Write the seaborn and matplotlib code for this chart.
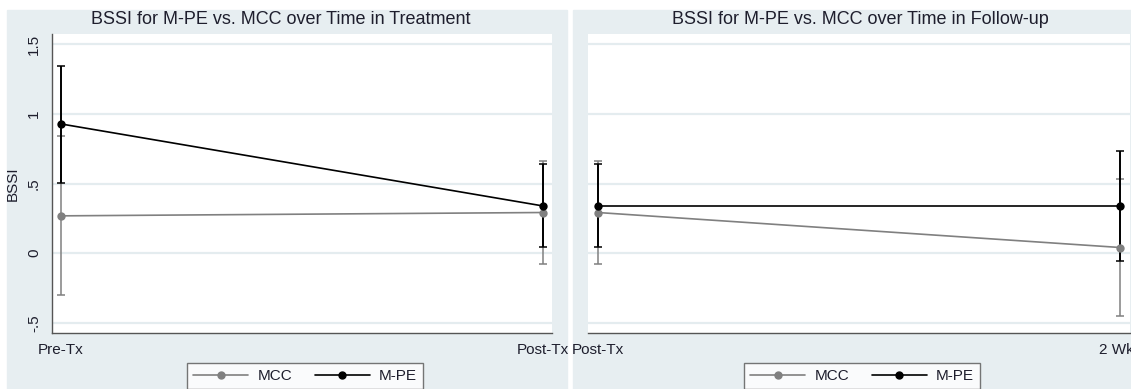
import numpy as np
import pandas as pd
import seaborn as sns
import matplotlib.pyplot as plt
from matplotlib.patches import Rectangle

# data
groups = ["MCC", "M-PE"]
tx_labels = ["Pre-Tx", "Post-Tx"]
fu_labels = ["Post-Tx", "2 Wks"]

tx_mcc = [0.268, 0.292]
tx_mcc_lo = [-0.298, -0.078]
tx_mcc_hi = [0.843, 0.664]
tx_mpe = [0.927, 0.339]
tx_mpe_lo = [0.506, 0.045]
tx_mpe_hi = [1.345, 0.638]

fu_mcc = [0.292, 0.041]
fu_mcc_lo = [-0.078, -0.448]
fu_mcc_hi = [0.664, 0.535]
fu_mpe = [0.339, 0.339]
fu_mpe_lo = [0.045, -0.054]
fu_mpe_hi = [0.638, 0.734]

ytick_vals = [-0.5, 0, 0.5, 1, 1.5]
ytick_labels = ["-.5", "0", ".5", "1", "1.5"]

BG = "#e7eef1"
GRID = "#e4ecef"
TXT = "#1e1e2d"
COLORS = {"MCC": "#808080", "M-PE": "#000000"}

sns.set_style("white")
plt.rcParams["font.family"] = ["Liberation Sans", "DejaVu Sans"]

W, H = 1131, 389
fig = plt.figure(figsize=(W / 100, H / 100), dpi=100)
fig.patch.set_facecolor("white")

def px(x0, y0, x1, y1):
    # pixel box -> figure fraction rect
    return [x0 / W, 1 - y1 / H, (x1 - x0) / W, (y1 - y0) / H]

# panel backgrounds (behind the axes)
fig.patches.append(Rectangle((7 / W, 0), (567 - 7) / W, 1 - 10 / H,
                             transform=fig.transFigure, color=BG, zorder=-5))
fig.patches.append(Rectangle((573 / W, 0), (W - 573) / W, 1 - 10 / H,
                             transform=fig.transFigure, color=BG, zorder=-5))


def draw_panel(ax, labels, mcc, mcc_lo, mcc_hi, mpe, mpe_lo, mpe_hi, title, tx, show_y):
    df = pd.DataFrame({
        "time": [0, 1, 0, 1],
        "BSSI": mcc + mpe,
        "group": ["MCC", "MCC", "M-PE", "M-PE"],
    })
    for g, m, lo, hi in [("MCC", mcc, mcc_lo, mcc_hi), ("M-PE", mpe, mpe_lo, mpe_hi)]:
        m = np.array(m)
        err = [m - np.array(lo), np.array(hi) - m]
        ax.errorbar([0, 1], m, yerr=err, fmt="none", ecolor=COLORS[g],
                    elinewidth=1.4 if g == "M-PE" else 1.1, capsize=3, capthick=1.1,
                    zorder=3 if g == "M-PE" else 2)
    sns.lineplot(data=df, x="time", y="BSSI", hue="group", hue_order=groups,
                 palette=COLORS, marker="o", markersize=6, markeredgewidth=0,
                 linewidth=1.2, ax=ax, legend=False, zorder=4)

    ax.set_facecolor("white")
    ax.set_xlim(-9 / 482, 1 + 9 / 482)
    ax.set_ylim(-0.572, 1.572)
    ax.set_xticks([0, 1])
    ax.set_xticklabels(labels, fontsize=11, color=TXT)
    ax.set_yticks(ytick_vals)
    for v in ytick_vals:
        ax.axhline(v, color=GRID, lw=1.6, zorder=0)
    for s in ["top", "right"]:
        ax.spines[s].set_visible(False)
    ax.spines["bottom"].set_color("#555555")
    ax.spines["bottom"].set_linewidth(1.0)
    ax.tick_params(axis="x", length=5, width=1, color="#555555", pad=2)
    if show_y:
        ax.spines["left"].set_color("#555555")
        ax.spines["left"].set_linewidth(1.0)
        ax.set_yticklabels(ytick_labels, fontsize=11, color=TXT, rotation=90, va="center")
        ax.tick_params(axis="y", length=5, width=1, color="#555555", pad=3)
        ax.set_ylabel("BSSI", fontsize=11, color=TXT, labelpad=5)
    else:
        ax.spines["left"].set_visible(False)
        ax.set_yticklabels([])
        ax.tick_params(axis="y", length=0)
        ax.set_ylabel("")
    ax.set_xlabel("")
    fig.text(tx / W, 1 - 20 / H, title, ha="center", va="center", fontsize=13, color=TXT)


ax1 = fig.add_axes(px(52, 34, 552, 333))
draw_panel(ax1, tx_labels, tx_mcc, tx_mcc_lo, tx_mcc_hi, tx_mpe, tx_mpe_lo, tx_mpe_hi,
           "BSSI for M-PE vs. MCC over Time in Treatment", 281, True)

ax2 = fig.add_axes(px(588, 34, 1130, 333))
draw_panel(ax2, fu_labels, fu_mcc, fu_mcc_lo, fu_mcc_hi, fu_mpe, fu_mpe_lo, fu_mpe_hi,
           "BSSI for M-PE vs. MCC over Time in Follow-up", 860, False)

# legends (Stata-style boxes under each panel)
handles = [plt.Line2D([], [], color=COLORS[g], marker="o", markersize=5, lw=1.2) for g in groups]
for x0 in [187, 744]:
    leg = fig.legend(handles, groups, loc="upper left", bbox_to_anchor=(x0 / W, 1 - 363 / H),
                     ncol=2, frameon=True, fancybox=False, fontsize=11, borderaxespad=0,
                     handlelength=3.6, columnspacing=1.5, borderpad=0.4, handletextpad=0.6)
    leg.get_frame().set_edgecolor("#555555")
    leg.get_frame().set_linewidth(1.0)
    leg.get_frame().set_facecolor("white")
    for t in leg.get_texts():
        t.set_color(TXT)

fig.savefig("out.png", dpi=100)
